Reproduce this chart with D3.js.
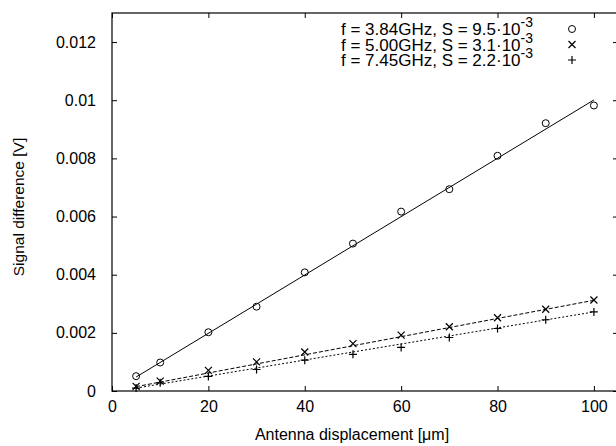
<!DOCTYPE html>
<html>
<head>
<meta charset="utf-8">
<script src="https://cdn.jsdelivr.net/npm/d3@7"></script>
<style>
  body { margin: 0; background: #fff; }
  svg { display: block; font-family: "Liberation Sans", Arial, sans-serif; }
</style>
</head>
<body>
<div id="chart"></div>
<script>
// displacement (um)
const displacement = [5, 10, 20, 30, 40, 50, 60, 70, 80, 90, 100];

// measured signal differences (V)
const sig384 = [0.00051, 0.00098, 0.00202, 0.00290, 0.00408, 0.00507, 0.00617, 0.00694, 0.00809, 0.00921, 0.00982];
const sig500 = [0.00016, 0.00034, 0.00071, 0.00100, 0.00134, 0.00163, 0.00192, 0.00221, 0.00252, 0.00281, 0.00313];
const sig745 = [0.00010, 0.00028, 0.00050, 0.00074, 0.00106, 0.00126, 0.00150, 0.00184, 0.00215, 0.00245, 0.00272];

// fitted lines: [x, y] at both ends
const fit384 = [[5, 0.00048], [100, 0.01001]];
const fit500 = [[5, 0.00015], [100, 0.00312]];
const fit745 = [[5, 0.00010], [100, 0.00272]];

const legendMain = ["f = 3.84GHz, S = 9.5\u00b710", "f = 5.00GHz, S = 3.1\u00b710", "f = 7.45GHz, S = 2.2\u00b710"];
const legendExp = "-3";

const xTicks = [0, 20, 40, 60, 80, 100];
const yTicks = [0, 0.002, 0.004, 0.006, 0.008, 0.01, 0.012];
const yTickLabels = ["0", "0.002", "0.004", "0.006", "0.008", "0.01", "0.012"];

const width = 616, height = 446;
const margin = {top: 13, right: -2, bottom: 55, left: 112};

const svg = d3.select("#chart").append("svg")
  .attr("width", width)
  .attr("height", height);

const x = d3.scaleLinear()
  .domain([0, 105])
  .range([margin.left, width - margin.right]);

const y = d3.scaleLinear()
  .domain([0, 0.013])
  .range([height - margin.bottom, margin.top]);

const tickLen = 5;

// bottom axis
svg.append("g")
  .attr("transform", `translate(0,${y(0)})`)
  .call(d3.axisBottom(x).tickValues(xTicks).tickSizeInner(-tickLen).tickSizeOuter(0).tickPadding(10).tickFormat(d3.format("d")))
  .call(g => g.select(".domain").remove())
  .call(g => g.selectAll("text").attr("font-size", 16).attr("fill", "#000").attr("font-family", null));

// top ticks
svg.append("g")
  .attr("transform", `translate(0,${y(0.013)})`)
  .call(d3.axisTop(x).tickValues(xTicks).tickSizeInner(-tickLen).tickSizeOuter(0).tickFormat(""))
  .call(g => g.select(".domain").remove());

// left axis
svg.append("g")
  .attr("transform", `translate(${x(0)},0)`)
  .call(d3.axisLeft(y).tickValues(yTicks).tickSizeInner(-tickLen).tickSizeOuter(0).tickPadding(16)
    .tickFormat((d, i) => yTickLabels[i]))
  .call(g => g.select(".domain").remove())
  .call(g => g.selectAll("text").attr("font-size", 16).attr("fill", "#000").attr("font-family", null));

// right ticks
svg.append("g")
  .attr("transform", `translate(${x(105)},0)`)
  .call(d3.axisRight(y).tickValues(yTicks).tickSizeInner(-tickLen).tickSizeOuter(0).tickFormat(""))
  .call(g => g.select(".domain").remove());

// frame
svg.append("rect")
  .attr("x", x(0))
  .attr("y", y(0.013))
  .attr("width", x(105) - x(0))
  .attr("height", y(0) - y(0.013))
  .attr("fill", "none")
  .attr("stroke", "#000")
  .attr("stroke-width", 1.2);

// axis titles
svg.append("text")
  .attr("x", 352)
  .attr("y", 440)
  .attr("text-anchor", "middle")
  .attr("font-size", 16)
  .text("Antenna displacement [\u03bcm]");

svg.append("text")
  .attr("transform", `translate(24,${(y(0) + y(0.013)) / 2 + 5}) rotate(-90)`)
  .attr("text-anchor", "middle")
  .attr("font-size", 15.5)
  .text("Signal difference [V]");

const line = d3.line().x(d => x(d[0])).y(d => y(d[1]));

const series = [
  {vals: sig384, fit: fit384, dash: null, marker: "circle"},
  {vals: sig500, fit: fit500, dash: "4,2", marker: "cross"},
  {vals: sig745, fit: fit745, dash: "2,2", marker: "plus"}
];

function drawMarker(g, type, cx, cy) {
  if (type === "circle") {
    g.append("circle").attr("cx", cx).attr("cy", cy).attr("r", 3.5)
      .attr("fill", "none").attr("stroke", "#000").attr("stroke-width", 1);
  } else if (type === "cross") {
    const s = 3.5;
    g.append("path").attr("d", `M${cx - s},${cy - s}L${cx + s},${cy + s}M${cx - s},${cy + s}L${cx + s},${cy - s}`)
      .attr("stroke", "#000").attr("stroke-width", 1.2);
  } else {
    const s = 4;
    g.append("path").attr("d", `M${cx - s},${cy}L${cx + s},${cy}M${cx},${cy - s}L${cx},${cy + s}`)
      .attr("stroke", "#000").attr("stroke-width", 1.2);
  }
}

series.forEach(s => {
  svg.append("path")
    .datum(s.fit)
    .attr("d", line)
    .attr("fill", "none")
    .attr("stroke", "#000")
    .attr("stroke-width", 1)
    .attr("stroke-dasharray", s.dash);

  const g = svg.append("g");
  s.vals.forEach((v, i) => drawMarker(g, s.marker, x(displacement[i]), y(v)));
});

// legend
const legend = svg.append("g").attr("font-size", 17);
legendMain.forEach((t, i) => {
  const by = 35 + i * 15.5;
  const txt = legend.append("text")
    .attr("x", 533)
    .attr("y", by)
    .attr("text-anchor", "end");
  txt.append("tspan").text(t);
  txt.append("tspan").attr("dy", -8).attr("font-size", 14).text(legendExp);
  drawMarker(legend, series[i].marker, 572, by - 6);
});
</script>
</body>
</html>
